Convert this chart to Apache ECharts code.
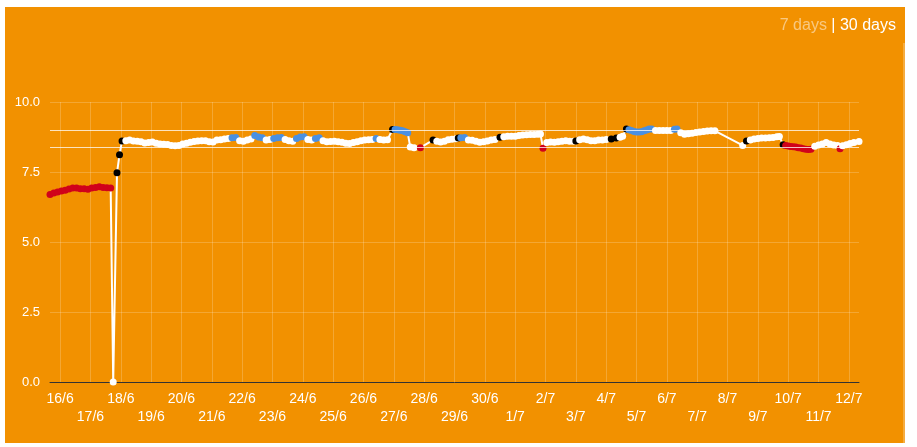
<!DOCTYPE html>
<html lang="en">
<head>
    <meta charset="UTF-8">
    <title>30 days</title>
    <script src="https://cdn.jsdelivr.net/npm/echarts@6.0.0/dist/echarts.min.js"></script>
    <style>
        html, body {
            margin: 0;
            padding: 0;
            width: 917px;
            height: 447px;
            overflow: hidden;
            background: #fff;
            font-family: "Liberation Sans", Arial, sans-serif;
        }
        .panel {
            position: absolute;
            left: 5px;
            top: 7px;
            width: 900px;
            height: 436px;
            background: #f29100;
        }
        .panel .edge {
            position: absolute;
            right: 0;
            top: 36px;
            bottom: 0;
            width: 2px;
            background: rgba(255, 255, 255, 0.25);
        }
        .range {
            position: absolute;
            right: 9px;
            top: 9px;
            font-size: 16px;
            line-height: 18px;
            color: #fff;
            z-index: 2;
        }
        .range .off {
            color: rgba(255, 255, 255, 0.5);
        }
        #main {
            position: absolute;
            left: 0;
            top: 0;
            width: 900px;
            height: 436px;
        }
    </style>
</head>
<body>

<div class="panel">
    <div id="main"></div>
    <div class="range"><span class="off">7 days</span> | <span>30 days</span></div>
    <div class="edge"></div>
</div>

<script>
    // hours since 16/6 00:00
    var hours = [
        -8, -5, -2, 1, 4, 7, 10, 13, 16, 19, 22, 25, 28, 31, 34, 37, 40, 42, 45, 47, 49,
        52, 55, 58, 61, 64, 67, 70, 73, 76, 79,
        82, 85, 88, 91, 94, 97, 100, 103, 106, 109,
        112, 115, 118, 121, 124, 127, 130, 133, 136, 139,
        142, 145, 148, 151, 154, 157, 160, 163, 166, 169,
        172, 175, 178, 181, 184, 187, 190, 193, 196, 199,
        202, 205, 208, 211, 214, 217, 220, 223, 226, 229,
        232, 235, 238, 241, 244, 247, 250, 253, 256, 259,
        263, 265, 267, 269, 271, 273, 275, 277, 280, 285,
        295, 298, 301, 304, 307, 310, 313, 315, 317, 320,
        323, 326, 329, 332, 335, 338, 341, 344, 348, 351,
        354, 357, 360, 363, 366, 369, 372, 375, 378, 380,
        382, 385, 388, 391, 394, 397, 400, 403, 406, 408,
        411, 414, 417, 420, 423, 426, 429, 432, 436, 440,
        443, 445, 448, 450, 452, 454, 456, 458, 460, 462,
        464, 466, 468, 471, 474, 477, 480, 483, 486, 488,
        491, 494, 497, 500, 503, 506, 509, 512, 515, 518,
        540, 543, 546, 549, 552, 555, 558, 561, 564, 567,
        569, 572, 574, 576, 578, 580, 582, 584, 586, 588,
        590, 592, 594, 597, 600, 603, 606, 609, 612, 615,
        617, 619, 622, 625, 628, 632
    ];
    var values = [
        6.70, 6.75, 6.79, 6.82, 6.85, 6.89, 6.93, 6.93, 6.90, 6.90, 6.88, 6.93, 6.95, 6.97, 6.95, 6.94, 6.93, 0, 7.47, 8.12, 8.61,
        8.62, 8.64, 8.61, 8.60, 8.58, 8.54, 8.55, 8.57, 8.53, 8.50,
        8.49, 8.48, 8.45, 8.44, 8.45, 8.50, 8.53, 8.56, 8.59, 8.61,
        8.62, 8.62, 8.58, 8.57, 8.64, 8.65, 8.68, 8.70, 8.72, 8.73,
        8.62, 8.60, 8.64, 8.68, 8.80, 8.75, 8.72, 8.64, 8.66, 8.70,
        8.72, 8.73, 8.66, 8.62, 8.60, 8.70, 8.75, 8.76, 8.66, 8.64,
        8.70, 8.72, 8.62, 8.58, 8.59, 8.60, 8.58, 8.56, 8.53, 8.52,
        8.55, 8.58, 8.62, 8.64, 8.65, 8.66, 8.70, 8.66, 8.64, 8.65,
        9.02, 9.02, 9.01, 8.99, 8.97, 8.94, 8.90, 8.39, 8.37, 8.37,
        8.64, 8.60, 8.57, 8.60, 8.65, 8.67, 8.69, 8.71, 8.72, 8.73,
        8.64, 8.63, 8.60, 8.56, 8.58, 8.61, 8.64, 8.66, 8.74, 8.76,
        8.78, 8.78, 8.78, 8.80, 8.82, 8.83, 8.84, 8.84, 8.85, 8.86,
        8.35, 8.55, 8.57, 8.56, 8.58, 8.60, 8.62, 8.60, 8.60, 8.61,
        8.65, 8.68, 8.65, 8.62, 8.62, 8.64, 8.64, 8.66, 8.68, 8.71,
        8.74, 8.78, 9.04, 9.01, 8.98, 8.95, 8.93, 8.93, 8.94, 8.97,
        9.00, 9.04, 9.04, 8.98, 8.98, 8.98, 8.98, 8.98, 9.03, 9.04,
        8.90, 8.85, 8.87, 8.88, 8.91, 8.93, 8.95, 8.96, 8.97, 8.97,
        8.45, 8.61, 8.64, 8.68, 8.70, 8.71, 8.71, 8.72, 8.73, 8.76,
        8.77, 8.47, 8.45, 8.43, 8.41, 8.40, 8.39, 8.37, 8.36, 8.33,
        8.31, 8.30, 8.31, 8.42, 8.46, 8.50, 8.55, 8.50, 8.46, 8.45,
        8.33, 8.44, 8.47, 8.52, 8.55, 8.59
    ];
    // w normal, r low, b high, k change
    var marks = [
        'r', 'r', 'r', 'r', 'r', 'r', 'r', 'r', 'r', 'r', 'r', 'r', 'r', 'r', 'r', 'r', 'r', 'w', 'k', 'k', 'k',
        'w', 'w', 'w', 'w', 'w', 'w', 'w', 'w', 'w', 'w',
        'w', 'w', 'w', 'w', 'w', 'w', 'w', 'w', 'w', 'w',
        'w', 'w', 'w', 'w', 'w', 'w', 'w', 'w', 'b', 'b',
        'w', 'w', 'w', 'w', 'b', 'b', 'b', 'w', 'w', 'b',
        'b', 'b', 'w', 'w', 'w', 'b', 'b', 'b', 'w', 'w',
        'b', 'b', 'w', 'w', 'w', 'w', 'w', 'w', 'w', 'w',
        'w', 'w', 'w', 'w', 'w', 'w', 'b', 'w', 'w', 'w',
        'k', 'b', 'b', 'b', 'b', 'b', 'b', 'w', 'w', 'r',
        'k', 'w', 'w', 'w', 'w', 'w', 'w', 'k', 'b', 'b',
        'w', 'w', 'w', 'w', 'w', 'w', 'w', 'w', 'k', 'w',
        'w', 'w', 'w', 'w', 'w', 'w', 'w', 'w', 'w', 'w',
        'r', 'w', 'w', 'w', 'w', 'w', 'w', 'w', 'w', 'k',
        'w', 'w', 'w', 'w', 'w', 'w', 'w', 'w', 'k', 'k',
        'w', 'w', 'k', 'b', 'b', 'b', 'b', 'b', 'b', 'b',
        'b', 'b', 'b', 'w', 'w', 'w', 'w', 'w', 'b', 'b',
        'w', 'w', 'w', 'w', 'w', 'w', 'w', 'w', 'w', 'w',
        'w', 'k', 'w', 'w', 'w', 'w', 'w', 'w', 'w', 'w',
        'w', 'k', 'r', 'r', 'r', 'r', 'r', 'r', 'r', 'r',
        'r', 'r', 'r', 'w', 'w', 'w', 'w', 'w', 'w', 'w',
        'r', 'w', 'w', 'w', 'w', 'w'
    ];
    var dayLabels = ['16/6', '17/6', '18/6', '19/6', '20/6', '21/6', '22/6', '23/6', '24/6', '25/6',
        '26/6', '27/6', '28/6', '29/6', '30/6', '1/7', '2/7', '3/7', '4/7', '5/7', '6/7', '7/7',
        '8/7', '9/7', '10/7', '11/7', '12/7'];
    var dayHours = [0, 24, 48, 72, 96, 120, 144, 168, 192, 216, 240, 264, 288, 312, 336, 360,
        384, 408, 432, 456, 480, 504, 528, 552, 576, 600, 624];
    var limits = [8.4, 9.0];

    var dotColors = {w: '#ffffff', r: '#d0021b', b: '#4a90e2', k: '#000000'};

    var points = [];
    for (var i = 0; i < hours.length; i++) {
        points.push({
            value: [hours[i], values[i]],
            itemStyle: {color: dotColors[marks[i]]}
        });
    }

    var myChart = echarts.init(document.getElementById('main'));
    var option = {
        animation: false,
        textStyle: {fontFamily: '"Liberation Sans", Arial, sans-serif'},
        grid: {left: 45, right: 46, top: 95, bottom: 61},
        xAxis: {
            type: 'value',
            min: -8,
            max: 632,
            axisLine: {lineStyle: {color: '#333', width: 1}},
            axisTick: {show: false, customValues: dayHours},
            axisLabel: {
                customValues: dayHours,
                color: '#fff',
                fontSize: 14,
                lineHeight: 18,
                margin: 8,
                formatter: function (val) {
                    var i = Math.round(val / 24);
                    return (i % 2 ? '\n' : '') + dayLabels[i];
                }
            },
            splitLine: {show: true, lineStyle: {color: 'rgba(255,255,255,0.2)'}}
        },
        yAxis: {
            type: 'value',
            min: 0,
            max: 10,
            interval: 2.5,
            axisLine: {show: false},
            axisTick: {show: false},
            axisLabel: {
                color: '#fff',
                fontSize: 13,
                margin: 10,
                formatter: function (v) {
                    return v.toFixed(1);
                }
            },
            splitLine: {lineStyle: {color: 'rgba(255,255,255,0.2)'}}
        },
        series: [
            {
                type: 'line',
                data: points,
                symbol: 'circle',
                symbolSize: 7,
                showSymbol: true,
                showAllSymbol: true,
                lineStyle: {color: '#fff', width: 2},
                markLine: {
                    silent: true,
                    symbol: 'none',
                    label: {show: false},
                    lineStyle: {color: 'rgba(255,255,255,0.75)', type: 'solid', width: 1},
                    data: limits.map(function (v) {
                        return {yAxis: v};
                    })
                }
            }
        ]
    };
    myChart.setOption(option);
</script>
</body>
</html>
